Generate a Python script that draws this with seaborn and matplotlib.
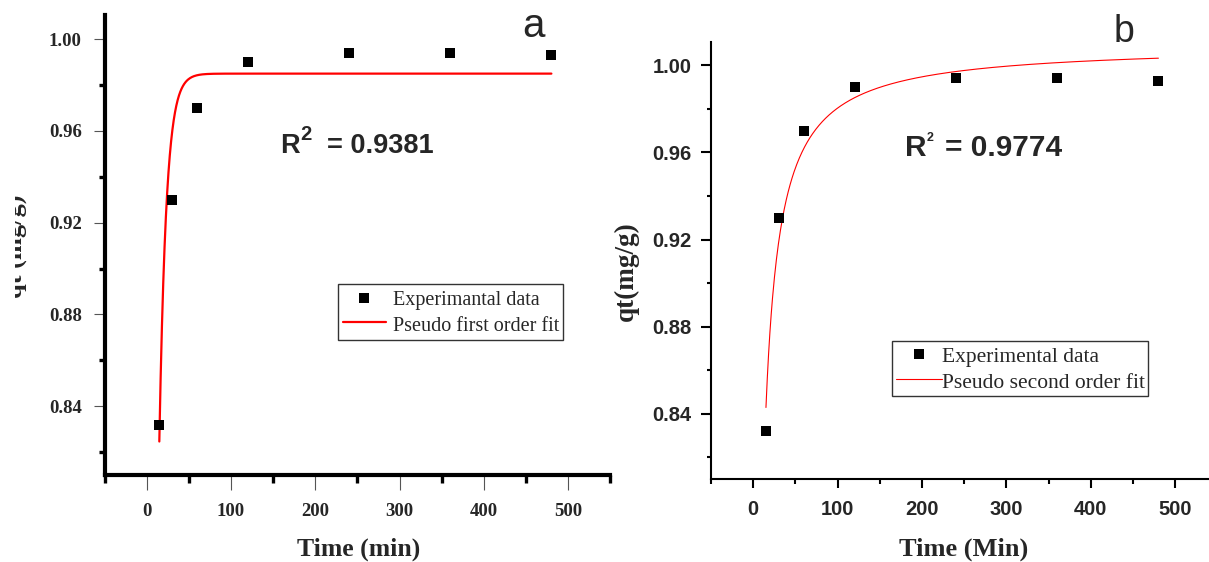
import numpy as np
import matplotlib
matplotlib.use("Agg")
import matplotlib.pyplot as plt
import seaborn as sns
from matplotlib.font_manager import FontProperties
from matplotlib.transforms import Bbox, TransformedBbox

# Contact time (min) and measured uptake qt (mg/g)
time_min = [15, 30, 60, 120, 240, 360, 480]
qt_exp = [0.832, 0.930, 0.970, 0.990, 0.994, 0.994, 0.993]

# Kinetic model parameters
qe_pfo = 0.985      # pseudo-first-order equilibrium capacity (mg/g)
k1_pfo = 0.121      # pseudo-first-order rate constant (1/min)
r2_pfo = 0.9381
qe_pso = 1.0095     # pseudo-second-order equilibrium capacity (mg/g)
k2_pso = 0.334      # pseudo-second-order rate constant (g/mg/min)
r2_pso = 0.9774

# Axis ticks
x_major = [0, 100, 200, 300, 400, 500]
x_minor = [-50, 50, 150, 250, 350, 450, 550]
y_major = [0.84, 0.88, 0.92, 0.96, 1.00]
y_minor = [0.82, 0.86, 0.90, 0.94, 0.98]
x_major_labels = ["0", "100", "200", "300", "400", "500"]
y_major_labels = ["0.84", "0.88", "0.92", "0.96", "1.00"]

t_fit = np.linspace(time_min[0], time_min[-1], 600)
q_pfo = qe_pfo * (1.0 - np.exp(-k1_pfo * t_fit))
q_pso = k2_pso * qe_pso ** 2 * t_fit / (1.0 + k2_pso * qe_pso * t_fit)

sns.set_style("ticks")
plt.rcParams["font.family"] = ["Liberation Sans", "DejaVu Sans"]

SERIF = "Liberation Serif"
SANS = "Liberation Sans"

fig = plt.figure(figsize=(12.09, 5.62), dpi=100)
ax_a = fig.add_axes([0.08644, 0.15480, 0.41845, 0.81868])
ax_b = fig.add_axes([0.58817, 0.14769, 0.41886, 0.77705])


def r2_label(ax, x, y, value, size, sup_size, sup_dy, gap):
    t1 = ax.text(x, y, "R", transform=ax.transAxes, fontfamily=SANS,
                 fontweight="bold", fontsize=size, ha="left", va="baseline")
    t2 = ax.annotate("2", xy=(1, 1), xycoords=t1, xytext=(0.3, sup_dy),
                     textcoords="offset points", fontfamily=SANS,
                     fontweight="bold", fontsize=sup_size, ha="left", va="top")
    ax.annotate(f"= {value:.4f}", xy=(1, 0), xycoords=(t2, t1),
                xytext=(gap, 0), textcoords="offset points", fontfamily=SANS,
                fontweight="bold", fontsize=size, ha="left", va="bottom")


def setup_axes(ax, tick_family, tick_size_x, tick_size_y, spine_w,
               major_kw_x, major_kw_y, minor_kw_x, minor_kw_y, pad_x, pad_y):
    ax.set_xlim(-50, 550)
    ax.set_ylim(0.81, 1.0106)
    for side in ("top", "right"):
        ax.spines[side].set_visible(False)
    for side in ("left", "bottom"):
        ax.spines[side].set_linewidth(spine_w)
        ax.spines[side].set_color("black")
    ax.set_xticks(x_major, labels=x_major_labels, fontfamily=tick_family,
                  fontweight="bold", fontsize=tick_size_x)
    ax.set_yticks(y_major, labels=y_major_labels, fontfamily=tick_family,
                  fontweight="bold", fontsize=tick_size_y)
    ax.set_xticks(x_minor, minor=True)
    ax.set_yticks(y_minor, minor=True)
    ax.tick_params(axis="x", which="major", direction="out", pad=pad_x, **major_kw_x)
    ax.tick_params(axis="y", which="major", direction="out", pad=pad_y, **major_kw_y)
    ax.tick_params(axis="x", which="minor", direction="out", **minor_kw_x)
    ax.tick_params(axis="y", which="minor", direction="out", **minor_kw_y)
    ax.grid(False)


# ---------------- Panel a: pseudo-first-order ----------------
sns.lineplot(x=t_fit, y=q_pfo, ax=ax_a, color="#ff0000", linewidth=1.6,
             label="Pseudo first order fit", zorder=2, errorbar=None)
sns.scatterplot(x=time_min, y=qt_exp, ax=ax_a, marker="s", s=42,
                color="black", linewidth=0, label="Experimantal data", zorder=3)

setup_axes(ax_a, SERIF, 13.5, 13.5, 3.0,
           dict(length=10.8, width=0.8, color="#555555"),
           dict(length=8.0, width=0.8, color="#555555"),
           dict(length=5.8, width=2.4, color="black"),
           dict(length=4.5, width=2.4, color="black"),
           9.4, 8.4)

ax_a.set_xlabel("Time (min)", fontfamily=SERIF, fontweight="bold", fontsize=18.5)
ax_a.xaxis.set_label_coords(0.503, -0.1755)
ax_a.xaxis.label.set_va("baseline")
ax_a.set_ylabel("qt (mg/g)", fontfamily=SERIF, fontweight="bold", fontsize=19)
ax_a.yaxis.set_label_coords(-0.1611, 0.4977)
ax_a.yaxis.label.set_va("baseline")
ax_a.yaxis.label.set_clip_on(True)
ax_a.yaxis.label.set_clip_box(
    TransformedBbox(Bbox([[15 / 1209, 0], [1, 1]]), fig.transFigure))

h, l = ax_a.get_legend_handles_labels()
order = [l.index("Experimantal data"), l.index("Pseudo first order fit")]
leg_a = ax_a.legend([h[i] for i in order], [l[i] for i in order],
                    loc="upper left", bbox_to_anchor=(0.4622, 0.4151),
                    borderaxespad=0, frameon=True, fancybox=False,
                    edgecolor="#333333", framealpha=1,
                    prop=FontProperties(family=SERIF, size=14.5),
                    handlelength=2.14, handletextpad=0.33, borderpad=0.22,
                    handleheight=1.14, labelspacing=0.18, scatterpoints=1)
leg_a.get_frame().set_linewidth(1.0)

r2_label(ax_a, 0.3469, 0.6992, r2_pfo, 19.5, 14.5, 6.0, 11.5)
ax_a.text(0.847, 0.952, "a", transform=ax_a.transAxes, fontfamily=SANS,
          fontsize=29, ha="center", va="baseline")

# ---------------- Panel b: pseudo-second-order ----------------
sns.lineplot(x=t_fit, y=q_pso, ax=ax_b, color="#ff0000", linewidth=0.8,
             label="Pseudo second order fit", zorder=2, errorbar=None)
sns.scatterplot(x=time_min, y=qt_exp, ax=ax_b, marker="s", s=42,
                color="black", linewidth=0, label="Experimental data", zorder=3)

setup_axes(ax_b, SANS, 14.5, 14.5, 1.5,
           dict(length=6.5, width=1.5, color="black"),
           dict(length=7.0, width=1.5, color="black"),
           dict(length=3.6, width=1.5, color="black"),
           dict(length=3.2, width=1.5, color="black"),
           8.6, 7.2)

ax_b.set_xlabel("Time (Min)", fontfamily=SERIF, fontweight="bold", fontsize=19)
ax_b.xaxis.set_label_coords(0.4988, -0.1763)
ax_b.xaxis.label.set_va("baseline")
ax_b.set_ylabel("qt(mg/g)", fontfamily=SERIF, fontweight="bold", fontsize=19.5)
ax_b.yaxis.set_label_coords(-0.1542, 0.4768)
ax_b.yaxis.label.set_va("baseline")

h, l = ax_b.get_legend_handles_labels()
order = [l.index("Experimental data"), l.index("Pseudo second order fit")]
leg_b = ax_b.legend([h[i] for i in order], [l[i] for i in order],
                    loc="upper left", bbox_to_anchor=(0.3578, 0.3160),
                    borderaxespad=0, frameon=True, fancybox=False,
                    edgecolor="#333333", framealpha=1,
                    prop=FontProperties(family=SERIF, size=15.5),
                    handlelength=2.17, handletextpad=0.0, borderpad=0.15,
                    handleheight=1.15, labelspacing=0.14, scatterpoints=1)
leg_b.get_frame().set_linewidth(1.0)

r2_label(ax_b, 0.3829, 0.7396, r2_pso, 21.5, 9.0, 1.2, 8.0)
ax_b.text(0.8154, 1.0014, "b", transform=ax_b.transAxes, fontfamily=SANS,
          fontsize=27, ha="center", va="baseline", clip_on=False)

fig.savefig("out.png", dpi=100)
